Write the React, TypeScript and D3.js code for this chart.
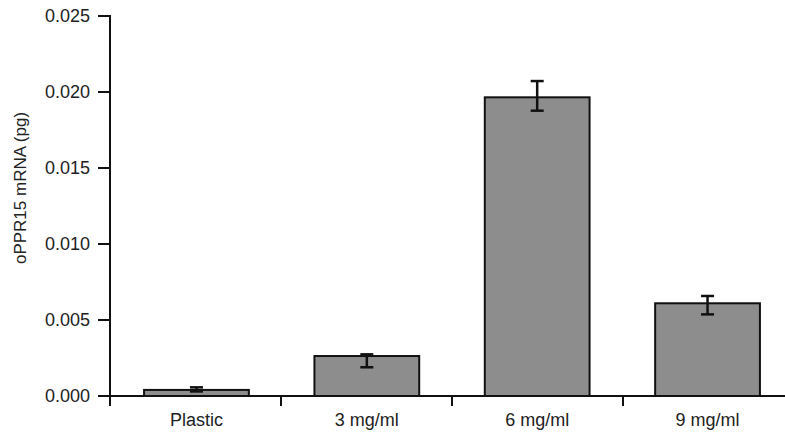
import React from "react";
import * as d3 from "d3";

const categories = ["Plastic", "3 mg/ml", "6 mg/ml", "9 mg/ml"];
const values = [0.0004, 0.00263, 0.01965, 0.0061];
const errorHigh = [0.00057, 0.00274, 0.02072, 0.00658];
const errorLow = [0.0003, 0.00189, 0.01877, 0.00537];
const yTicks = [0, 0.005, 0.01, 0.015, 0.02, 0.025];
const yLabel = "oPPR15 mRNA (pg)";

const W = 785;
const H = 435;
const axisX = 110;
const axisY = 396;
const FONT = "'Liberation Sans', Arial, sans-serif";

export default function App() {
  const x = d3.scaleBand<string>().domain(categories).range([axisX, axisX + 4 * 171]).paddingInner(0.385).paddingOuter(0.2);
  const band = d3.scaleBand<string>().domain(categories).range([axisX, axisX + 4 * 171]);
  const y = d3.scaleLinear().domain([0, 0.025]).range([axisY, 16]);
  const capW = 13;

  return (
    <svg width={W} height={H} style={{ position: "absolute", left: 0, top: 0, background: "#fff" }}>
      {/* bars */}
      {categories.map((c, i) => (
        <rect
          key={c}
          x={x(c)!}
          y={y(values[i])}
          width={x.bandwidth()}
          height={axisY - y(values[i])}
          fill="#8d8d8d"
          stroke="#111"
          strokeWidth={2}
        />
      ))}
      {/* error bars */}
      {categories.map((c, i) => {
        const cx = x(c)! + x.bandwidth() / 2;
        const top = y(errorHigh[i]);
        const bot = y(errorLow[i]);
        return (
          <g key={"e" + c} stroke="#111" strokeWidth={2.5}>
            <line x1={cx} x2={cx} y1={top} y2={bot} />
            <line x1={cx - capW / 2} x2={cx + capW / 2} y1={top} y2={top} />
            <line x1={cx - capW / 2} x2={cx + capW / 2} y1={bot} y2={bot} />
          </g>
        );
      })}
      {/* y axis */}
      <line x1={axisX} x2={axisX} y1={y(0.025) - 1} y2={406} stroke="#111" strokeWidth={2} />
      {yTicks.map((t) => (
        <g key={t}>
          <line x1={98} x2={axisX} y1={y(t)} y2={y(t)} stroke="#111" strokeWidth={2} />
          <text x={90} y={y(t)} dy="0.35em" textAnchor="end" fontFamily={FONT} fontSize={18} fill="#222">
            {d3.format(".3f")(t)}
          </text>
        </g>
      ))}
      {/* x axis */}
      <line x1={98} x2={W} y1={axisY} y2={axisY} stroke="#111" strokeWidth={2} />
      {categories.map((c, i) =>
        i > 0 ? (
          <line key={"t" + c} x1={band(c)!} x2={band(c)!} y1={axisY} y2={406} stroke="#111" strokeWidth={2} />
        ) : null
      )}
      {categories.map((c) => (
        <text
          key={"l" + c}
          x={x(c)! + x.bandwidth() / 2}
          y={426}
          textAnchor="middle"
          fontFamily={FONT}
          fontSize={18}
          fill="#222"
        >
          {c}
        </text>
      ))}
      <text
        transform={`translate(26, 188) rotate(-90)`}
        textAnchor="middle"
        fontFamily={FONT}
        fontSize={17}
        fill="#222"
      >
        {yLabel}
      </text>
    </svg>
  );
}
